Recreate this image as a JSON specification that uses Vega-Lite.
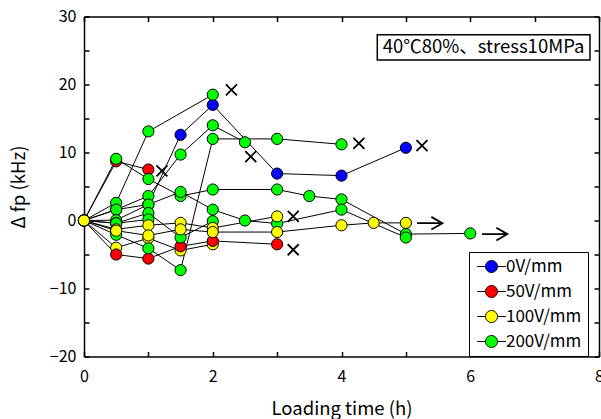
{
  "$schema": "https://vega.github.io/schema/vega-lite/v6.json",
  "width": 515,
  "height": 340,
  "autosize": {"type": "none"},
  "padding": {"left": 84, "top": 16.5, "right": 2, "bottom": 62.5},
  "background": "white",
  "config": {
    "view": {"stroke": null},
    "font": "Noto Sans CJK JP",
    "axis": {
      "grid": false,
      "domainColor": "black",
      "domainWidth": 1.5,
      "tickColor": "black",
      "tickWidth": 1.5,
      "tickSize": -5,
      "labelFont": "Noto Sans CJK JP",
      "labelFontSize": 16,
      "labelColor": "black",
      "titleFont": "Noto Sans CJK JP",
      "titleFontSize": 18.5,
      "titleFontWeight": "normal",
      "titleColor": "black",
      "labelFlush": false,
      "labelOverlap": false
    }
  },
  "datasets": {
    "pts": [
      {"s": "B1", "v": "0V/mm", "t": 0, "f": 0},
      {"s": "B1", "v": "0V/mm", "t": 0.5, "f": 1.6},
      {"s": "B1", "v": "0V/mm", "t": 1, "f": 2.35},
      {"s": "B1", "v": "0V/mm", "t": 1.5, "f": 12.6},
      {"s": "B1", "v": "0V/mm", "t": 2, "f": 17.0},
      {"s": "B1", "v": "0V/mm", "t": 3, "f": 6.9},
      {"s": "B1", "v": "0V/mm", "t": 4, "f": 6.6},
      {"s": "B1", "v": "0V/mm", "t": 5, "f": 10.7},
      {"s": "Y1", "v": "100V/mm", "t": 0, "f": 0},
      {"s": "Y1", "v": "100V/mm", "t": 0.5, "f": -4.0},
      {"s": "Y1", "v": "100V/mm", "t": 1, "f": -2.6},
      {"s": "Y1", "v": "100V/mm", "t": 1.5, "f": -4.4},
      {"s": "Y1", "v": "100V/mm", "t": 2, "f": -3.5},
      {"s": "R1", "v": "50V/mm", "t": 0, "f": 0},
      {"s": "R1", "v": "50V/mm", "t": 0.5, "f": 8.7},
      {"s": "R1", "v": "50V/mm", "t": 1, "f": 7.5},
      {"s": "R2", "v": "50V/mm", "t": 0, "f": 0},
      {"s": "R2", "v": "50V/mm", "t": 0.5, "f": -5.0},
      {"s": "R2", "v": "50V/mm", "t": 1, "f": -5.6},
      {"s": "R2", "v": "50V/mm", "t": 1.5, "f": -3.8},
      {"s": "R2", "v": "50V/mm", "t": 2, "f": -3.0},
      {"s": "R2", "v": "50V/mm", "t": 3, "f": -3.5},
      {"s": "G1", "v": "200V/mm", "t": 0, "f": 0},
      {"s": "G1", "v": "200V/mm", "t": 0.5, "f": 9.07},
      {"s": "G1", "v": "200V/mm", "t": 1, "f": 6.1},
      {"s": "G1", "v": "200V/mm", "t": 1.5, "f": 3.6},
      {"s": "G1", "v": "200V/mm", "t": 2, "f": 4.56},
      {"s": "G1", "v": "200V/mm", "t": 3, "f": 4.56},
      {"s": "G1", "v": "200V/mm", "t": 3.5, "f": 3.6},
      {"s": "G1", "v": "200V/mm", "t": 4, "f": 3.1},
      {"s": "G1", "v": "200V/mm", "t": 5, "f": -2.0},
      {"s": "G1", "v": "200V/mm", "t": 6, "f": -1.9},
      {"s": "G2", "v": "200V/mm", "t": 0, "f": 0},
      {"s": "G2", "v": "200V/mm", "t": 0.5, "f": 2.6},
      {"s": "G2", "v": "200V/mm", "t": 1, "f": 13.1},
      {"s": "G2", "v": "200V/mm", "t": 2, "f": 18.5},
      {"s": "G3", "v": "200V/mm", "t": 0, "f": 0},
      {"s": "G3", "v": "200V/mm", "t": 0.5, "f": 1.6},
      {"s": "G3", "v": "200V/mm", "t": 1, "f": 3.6},
      {"s": "G3", "v": "200V/mm", "t": 1.5, "f": 9.7},
      {"s": "G3", "v": "200V/mm", "t": 2, "f": 14.0},
      {"s": "G3", "v": "200V/mm", "t": 2.5, "f": 11.5},
      {"s": "G4", "v": "200V/mm", "t": 0, "f": 0},
      {"s": "G4", "v": "200V/mm", "t": 0.5, "f": -2.1},
      {"s": "G4", "v": "200V/mm", "t": 1, "f": -4.1},
      {"s": "G4", "v": "200V/mm", "t": 1.5, "f": -7.3},
      {"s": "G4", "v": "200V/mm", "t": 2, "f": 12.0},
      {"s": "G4", "v": "200V/mm", "t": 3, "f": 12.0},
      {"s": "G4", "v": "200V/mm", "t": 4, "f": 11.2},
      {"s": "G5", "v": "200V/mm", "t": 0, "f": 0},
      {"s": "G5", "v": "200V/mm", "t": 0.5, "f": 0.05},
      {"s": "G5", "v": "200V/mm", "t": 1, "f": 2.35},
      {"s": "G5", "v": "200V/mm", "t": 1.5, "f": 4.2},
      {"s": "G5", "v": "200V/mm", "t": 2, "f": 1.6},
      {"s": "G5", "v": "200V/mm", "t": 2.5, "f": 0},
      {"s": "G5", "v": "200V/mm", "t": 3, "f": -0.45},
      {"s": "G5", "v": "200V/mm", "t": 4, "f": 1.6},
      {"s": "G5", "v": "200V/mm", "t": 5, "f": -2.5},
      {"s": "G6", "v": "200V/mm", "t": 0, "f": 0},
      {"s": "G6", "v": "200V/mm", "t": 0.5, "f": -0.4},
      {"s": "G6", "v": "200V/mm", "t": 1, "f": 1.1},
      {"s": "G6", "v": "200V/mm", "t": 1.5, "f": -2.5},
      {"s": "G6", "v": "200V/mm", "t": 2, "f": -0.1},
      {"s": "G7", "v": "200V/mm", "t": 0, "f": 0},
      {"s": "G7", "v": "200V/mm", "t": 0.5, "f": -0.4},
      {"s": "G7", "v": "200V/mm", "t": 1, "f": 0.15},
      {"s": "Y2", "v": "100V/mm", "t": 0, "f": 0},
      {"s": "Y2", "v": "100V/mm", "t": 0.5, "f": -1.3},
      {"s": "Y2", "v": "100V/mm", "t": 1, "f": -0.7},
      {"s": "Y2", "v": "100V/mm", "t": 1.5, "f": -0.35},
      {"s": "Y2", "v": "100V/mm", "t": 2, "f": -1.1},
      {"s": "Y2", "v": "100V/mm", "t": 3, "f": 0.6},
      {"s": "Y3", "v": "100V/mm", "t": 0, "f": 0},
      {"s": "Y3", "v": "100V/mm", "t": 0.5, "f": -1.5},
      {"s": "Y3", "v": "100V/mm", "t": 1, "f": -2.2},
      {"s": "Y3", "v": "100V/mm", "t": 1.5, "f": -1.3},
      {"s": "Y3", "v": "100V/mm", "t": 2, "f": -1.7},
      {"s": "Y3", "v": "100V/mm", "t": 3, "f": -1.7},
      {"s": "Y3", "v": "100V/mm", "t": 4, "f": -0.7},
      {"s": "Y3", "v": "100V/mm", "t": 4.5, "f": -0.35},
      {"s": "Y3", "v": "100V/mm", "t": 5, "f": -0.35}
    ],
    "ends": [
      {"k": "fail", "t": 2.29, "f": 19.2},
      {"k": "fail", "t": 2.59, "f": 9.4},
      {"k": "fail", "t": 4.27, "f": 11.35},
      {"k": "fail", "t": 5.25, "f": 11.0},
      {"k": "fail", "t": 3.25, "f": 0.6},
      {"k": "fail", "t": 3.25, "f": -4.3},
      {"k": "fail", "t": 1.21, "f": 7.3},
      {"k": "runout", "t": 5.37, "f": -0.4},
      {"k": "runout", "t": 6.38, "f": -2.0}
    ],
    "note": [
      {"t1": 4.556, "t2": 7.86, "f1": 27.3, "f2": 23.6, "tx": 6.207, "ty": 25.45, "label": "40℃80%、stress10MPa"}
    ]
  },
  "layer": [
    {
      "data": {"name": "pts"},
      "mark": {"type": "line", "color": "black", "strokeWidth": 1},
      "encoding": {
        "x": {"field": "t", "type": "quantitative", "scale": {"domain": [0, 8], "nice": false, "zero": false},
          "axis": {"orient": "bottom", "values": [0, 1, 2, 3, 4, 5, 6, 7, 8], "labelExpr": "datum.value % 2 === 0 ? datum.label : ''", "title": "Loading time (h)", "labelPadding": 17, "titlePadding": 15}},
        "y": {"field": "f", "type": "quantitative", "scale": {"domain": [-20, 30], "nice": false, "zero": false},
          "axis": {"orient": "left", "values": [-20, -15, -10, -5, 0, 5, 10, 15, 20, 25, 30], "labelExpr": "datum.value % 10 === 0 ? datum.label : ''", "title": "Δ fp (kHz)", "labelPadding": 13, "titlePadding": 21}},
        "detail": {"field": "s", "type": "nominal"},
        "order": {"field": "t", "type": "quantitative"}
      }
    },
    {
      "data": {"name": "pts"},
      "mark": {"type": "point", "filled": true, "stroke": "black", "strokeWidth": 1, "size": 125, "opacity": 1},
      "encoding": {
        "x": {"field": "t", "type": "quantitative", "scale": {"domain": [0, 8], "nice": false, "zero": false},
          "axis": {"orient": "top", "values": [0, 1, 2, 3, 4, 5, 6, 7, 8], "labels": false, "title": null}},
        "y": {"field": "f", "type": "quantitative", "scale": {"domain": [-20, 30], "nice": false, "zero": false},
          "axis": {"orient": "right", "values": [-20, -15, -10, -5, 0, 5, 10, 15, 20, 25, 30], "labels": false, "title": null}},
        "color": {"field": "v", "type": "nominal",
          "scale": {"domain": ["0V/mm", "50V/mm", "100V/mm", "200V/mm"], "range": ["#0000ff", "#ff0000", "#ffff00", "#00ff00"]},
          "legend": {"orient": "none", "legendX": 385, "legendY": 235.5, "title": null, "strokeColor": "black", "fillColor": "white", "padding": 6,
            "symbolType": "M-2.4,0L-1,0M1,0L2.4,0M-1,0A1,1 0 1 1 1,0A1,1 0 1 1 -1,0Z", "symbolSize": 144, "symbolStrokeColor": "black", "symbolStrokeWidth": 1, "symbolOffset": 8, "symbolOpacity": 1,
            "labelOffset": 6, "labelFontSize": 17, "labelFont": "Noto Sans CJK JP", "labelColor": "black", "rowPadding": 7}}
      }
    },
    {
      "data": {"name": "ends"},
      "mark": {"type": "point", "filled": false, "stroke": "black", "strokeWidth": 1.8, "size": 121, "opacity": 1},
      "encoding": {
        "x": {"field": "t", "type": "quantitative", "scale": {"domain": [0, 8], "nice": false, "zero": false}, "axis": null},
        "y": {"field": "f", "type": "quantitative", "scale": {"domain": [-20, 30], "nice": false, "zero": false}, "axis": null},
        "shape": {"field": "k", "type": "nominal", "scale": {"domain": ["fail", "runout"], "range": ["M-1,-1L1,1M-1,1L1,-1", "M-2.3,0L2.3,0M0.3,-1.15L2.3,0L0.3,1.15"]}, "legend": null}
      }
    },
    {
      "data": {"name": "note"},
      "mark": {"type": "rect", "fill": "white", "stroke": "black", "strokeWidth": 1.5},
      "encoding": {
        "x": {"field": "t1", "type": "quantitative", "scale": {"domain": [0, 8], "nice": false, "zero": false}, "axis": null},
        "x2": {"field": "t2"},
        "y": {"field": "f1", "type": "quantitative", "scale": {"domain": [-20, 30], "nice": false, "zero": false}, "axis": null},
        "y2": {"field": "f2"}
      }
    },
    {
      "data": {"name": "note"},
      "mark": {"type": "text", "font": "Noto Sans CJK JP", "fontSize": 18.5, "color": "black", "align": "center", "baseline": "middle"},
      "encoding": {
        "x": {"field": "tx", "type": "quantitative", "scale": {"domain": [0, 8], "nice": false, "zero": false}, "axis": null},
        "y": {"field": "ty", "type": "quantitative", "scale": {"domain": [-20, 30], "nice": false, "zero": false}, "axis": null},
        "text": {"field": "label"}
      }
    }
  ],
  "resolve": {"scale": {"x": "shared", "y": "shared"}, "axis": {"x": "independent", "y": "independent"}}
}
